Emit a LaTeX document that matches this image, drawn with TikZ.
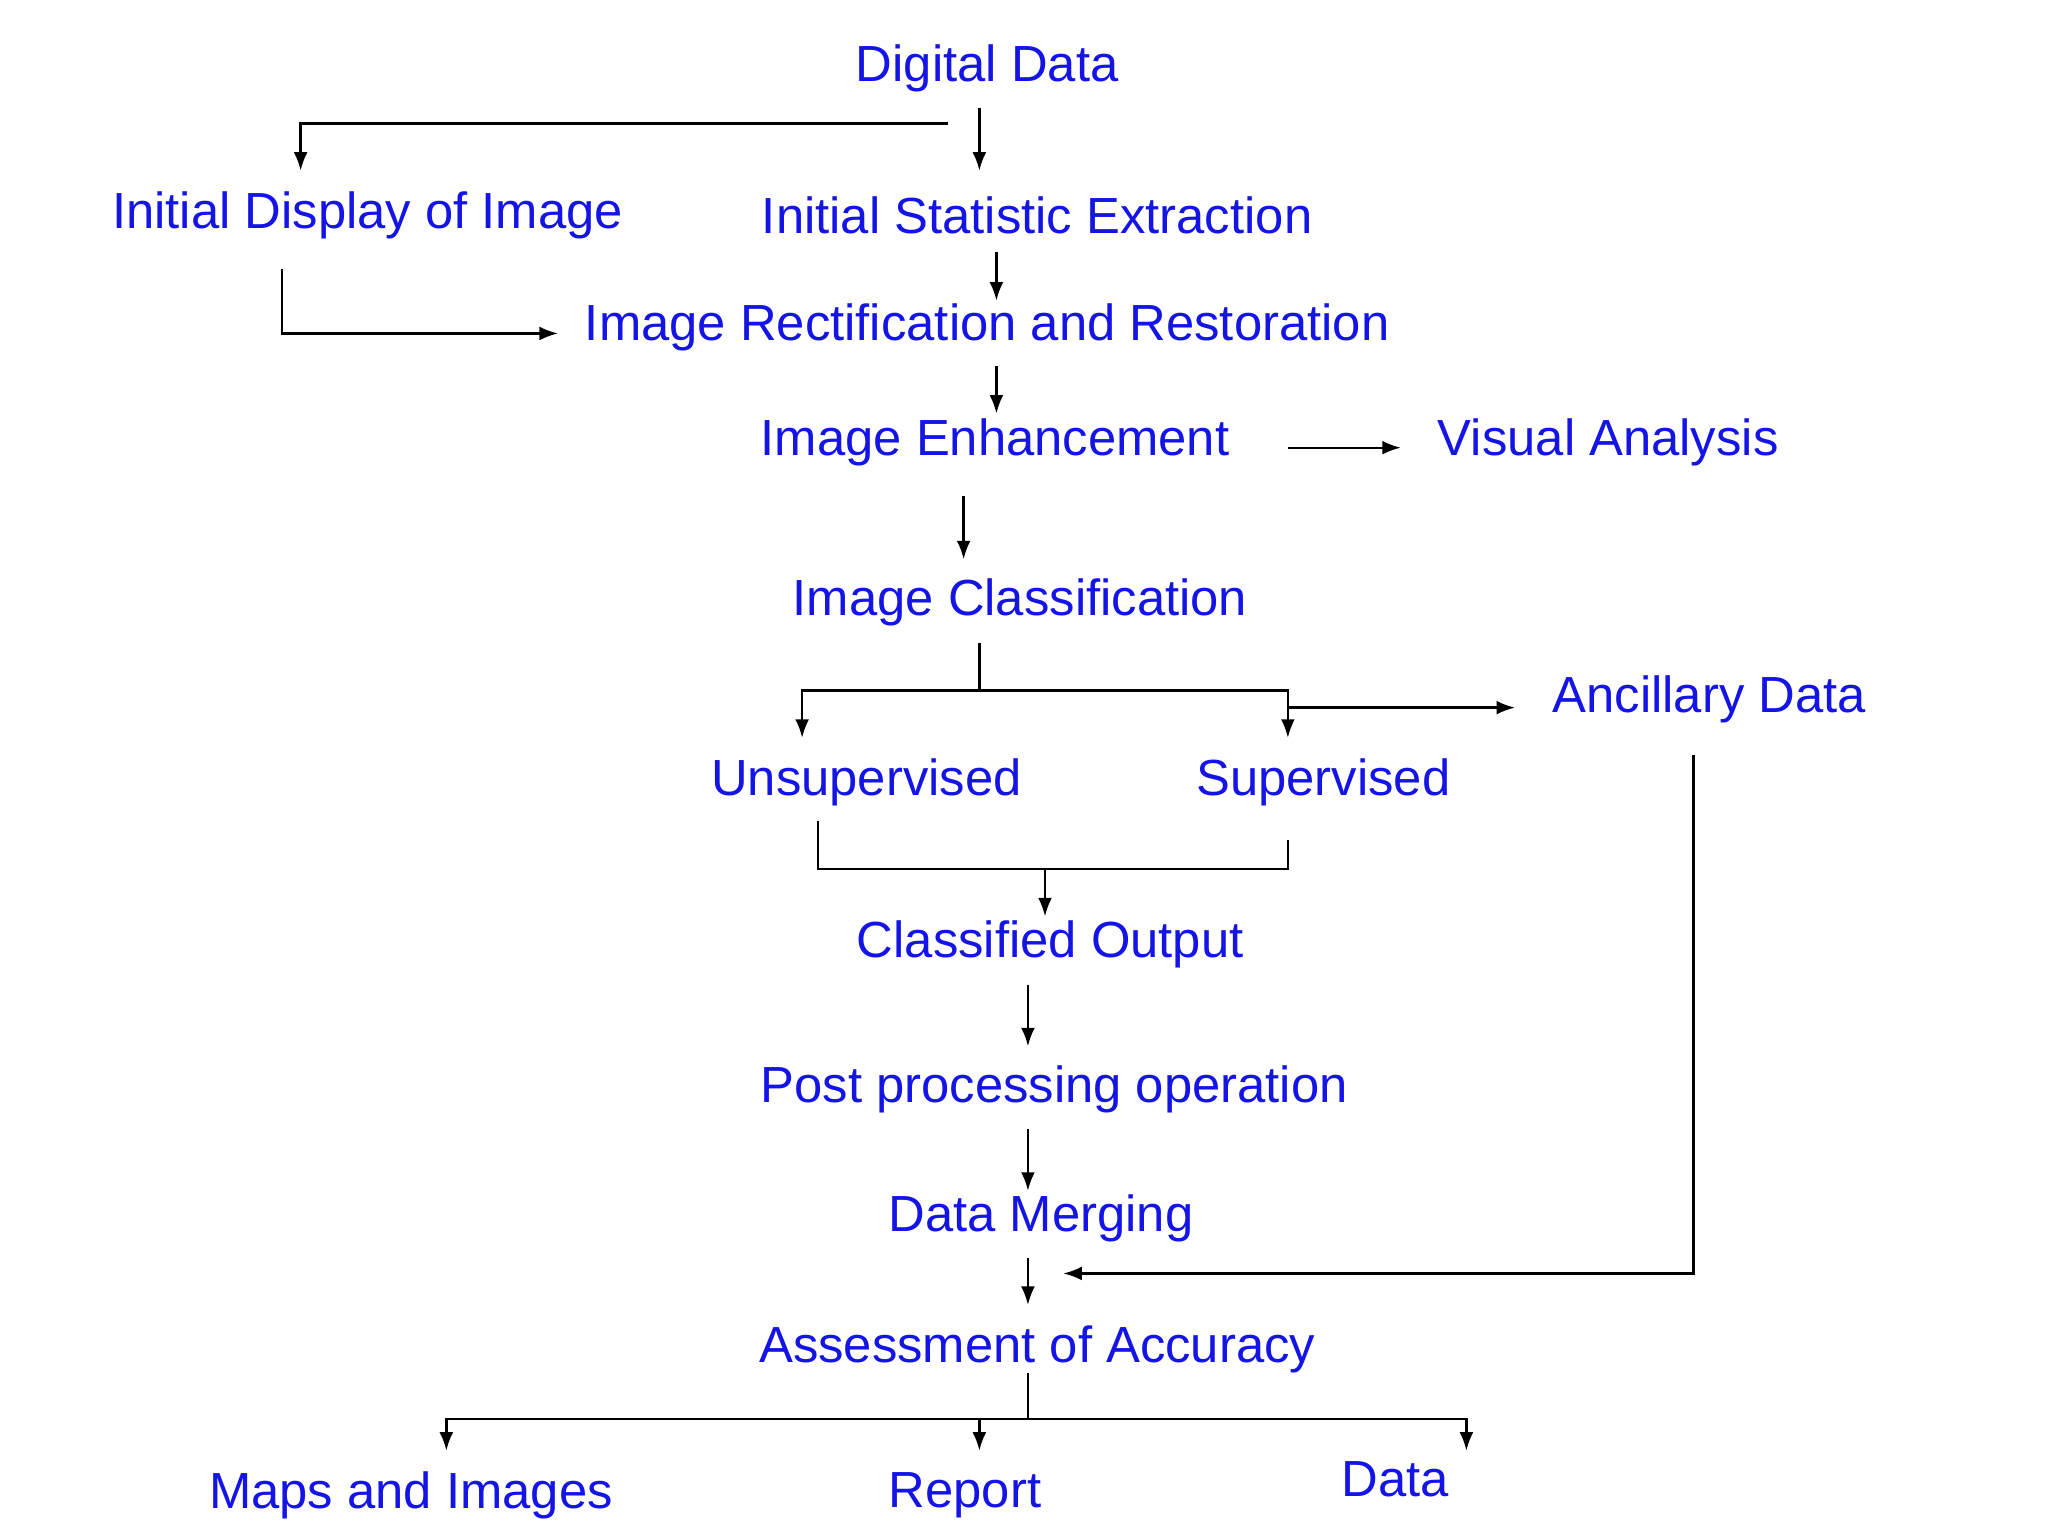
\documentclass[tikz,border=0pt]{standalone}
\usepackage{fontspec}
\setmainfont{Liberation Sans}
\usetikzlibrary{arrows.meta}
\definecolor{lbl}{RGB}{20,20,230}
\begin{document}
\begin{tikzpicture}[x=0.01cm,y=-0.01cm,
  lab/.style={text=lbl,font=\fontsize{11pt}{13pt}\selectfont,inner sep=0pt},
  ln/.style={draw=black,line width=0.5pt},
  ar/.style={ln,-{Latex[length=4pt,width=3pt]}}]
\useasboundingbox (0,0) rectangle (1560,1170);
\fill[white] (0,0) rectangle (1560,1170);
\node[lab] (dd) at (752,52) {Digital Data};
\node[lab] (idi) at (280,164) {Initial Display of Image};
\node[lab] (ise) at (790,164) {Initial Statistic Extraction};
\node[lab] (irr) at (752,249) {Image Rectification and Restoration};
\node[lab] (ie) at (758,337) {Image Enhancement};
\node[lab] (va) at (1225,337) {Visual Analysis};
\node[lab] (ic) at (777,459) {Image Classification};
\node[lab] (ad) at (1302,533) {Ancillary Data};
\node[lab] (un) at (660,596) {Unsupervised};
\node[lab] (su) at (1008,596) {Supervised};
\node[lab] (co) at (800,719) {Classified Output};
\node[lab] (pp) at (803,830) {Post processing operation};
\node[lab] (dm) at (793,928) {Data Merging};
\node[lab] (aa) at (790,1028) {Assessment of Accuracy};
\node[lab] (mi) at (313,1139) {Maps and Images};
\node[lab] (rep) at (735,1139) {Report};
\node[lab] (dat) at (1063,1127) {Data};
% connectors
\draw[ar] (722,94) -- (229,94) -- (229,130);
\draw[ar] (746,82) -- (746,130);
\draw[ar] (759,192) -- (759,229);
\draw[ar] (215,205) -- (215,254) -- (425,254);
\draw[ar] (759,279) -- (759,315);
\draw[ar] (981,341) -- (1067,341);
\draw[ar] (734,378) -- (734,426);
\draw[ln] (746,490) -- (746,526);
\draw[ar] (746,526) -- (611,526) -- (611,562);
\draw[ar] (746,526) -- (981,526) -- (981,562);
\draw[ar] (981,539) -- (1154,539);
\draw[ar] (1290,575) -- (1290,970) -- (810,970);
\draw[ln] (623,625) -- (623,662) -- (981,662) -- (981,640);
\draw[ar] (796,662) -- (796,698);
\draw[ar] (783,750) -- (783,797);
\draw[ar] (783,860) -- (783,907);
\draw[ar] (783,958) -- (783,994);
\draw[ln] (783,1046) -- (783,1081);
\draw[ar] (783,1081) -- (340,1081) -- (340,1105);
\draw[ar] (783,1081) -- (1117,1081) -- (1117,1105);
\draw[ar] (746,1081) -- (746,1105);
\end{tikzpicture}
\end{document}
